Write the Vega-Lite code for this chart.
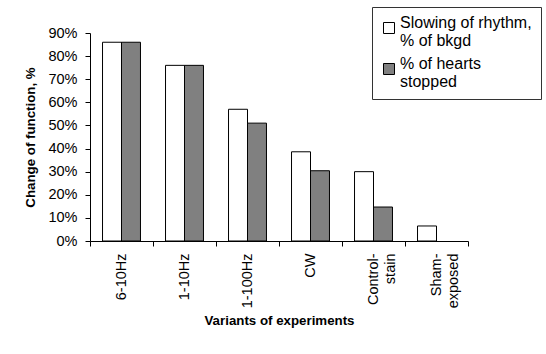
{
  "$schema": "https://vega.github.io/schema/vega-lite/v6.json",
  "width": 378,
  "height": 208,
  "autosize": {"type": "none"},
  "padding": {"left": 90, "top": 33, "right": 78, "bottom": 113},
  "background": "white",
  "data": {
    "values": [
      {"variant": "6-10Hz", "series": "Slowing of rhythm, % of bkgd", "value": 0.86},
      {"variant": "6-10Hz", "series": "% of hearts stopped", "value": 0.86},
      {"variant": "1-10Hz", "series": "Slowing of rhythm, % of bkgd", "value": 0.76},
      {"variant": "1-10Hz", "series": "% of hearts stopped", "value": 0.76},
      {"variant": "1-100Hz", "series": "Slowing of rhythm, % of bkgd", "value": 0.57},
      {"variant": "1-100Hz", "series": "% of hearts stopped", "value": 0.51},
      {"variant": "CW", "series": "Slowing of rhythm, % of bkgd", "value": 0.386},
      {"variant": "CW", "series": "% of hearts stopped", "value": 0.304},
      {"variant": "Control-stain", "series": "Slowing of rhythm, % of bkgd", "value": 0.30},
      {"variant": "Control-stain", "series": "% of hearts stopped", "value": 0.147},
      {"variant": "Sham-exposed", "series": "Slowing of rhythm, % of bkgd", "value": 0.065}
    ]
  },
  "mark": {"type": "bar", "stroke": "black", "strokeWidth": 1},
  "encoding": {
    "x": {
      "field": "variant",
      "type": "nominal",
      "sort": ["6-10Hz", "1-10Hz", "1-100Hz", "CW", "Control-stain", "Sham-exposed"],
      "scale": {"paddingInner": 0, "paddingOuter": 0},
      "axis": {
        "title": "Variants of experiments",
        "labelAngle": -90,
        "tickBand": "extent",
        "tickSize": 5,
        "labelPadding": 7,
        "labelLineHeight": 17,
        "titlePadding": 6,
        "labelExpr": "datum.label == 'Control-stain' ? ['Control-', 'stain'] : datum.label == 'Sham-exposed' ? ['Sham-', 'exposed'] : datum.label"
      }
    },
    "xOffset": {
      "field": "series",
      "type": "nominal",
      "sort": ["Slowing of rhythm, % of bkgd", "% of hearts stopped"],
      "scale": {"paddingInner": 0, "paddingOuter": 0.66}
    },
    "y": {
      "field": "value",
      "type": "quantitative",
      "scale": {"domain": [0, 0.9], "nice": false},
      "axis": {
        "title": "Change of function, %",
        "format": ".0%",
        "values": [0, 0.1, 0.2, 0.3, 0.4, 0.5, 0.6, 0.7, 0.8, 0.9],
        "grid": false,
        "tickSize": 5,
        "labelPadding": 8,
        "titlePadding": 10
      }
    },
    "fill": {
      "field": "series",
      "type": "nominal",
      "sort": ["Slowing of rhythm, % of bkgd", "% of hearts stopped"],
      "scale": {"range": ["#ffffff", "#808080"]},
      "legend": {
        "title": " ",
        "titleFontSize": 2,
        "titlePadding": 2,
        "orient": "none",
        "legendX": 282,
        "legendY": -26,
        "symbolType": "square",
        "symbolSize": 121,
        "symbolStrokeColor": "black",
        "symbolStrokeWidth": 1,
        "symbolOpacity": 1,
        "labelFontSize": 16,
        "labelLineHeight": 18,
        "labelLimit": 300,
        "labelOffset": 3,
        "labelBaseline": "alphabetic",
        "labelColor": "black",
        "labelFont": "Liberation Sans",
        "rowPadding": 7,
        "padding": 9,
        "strokeColor": "#333333",
        "fillColor": "white",
        "labelExpr": "datum.label == 'Slowing of rhythm, % of bkgd' ? ['Slowing of rhythm,', '% of bkgd'] : ['% of hearts', 'stopped']"
      }
    }
  },
  "config": {
    "font": "Liberation Sans",
    "view": {"stroke": null},
    "axis": {
      "domainColor": "black",
      "tickColor": "black",
      "labelColor": "black",
      "titleColor": "black",
      "labelFont": "Liberation Sans",
      "titleFont": "Liberation Sans",
      "labelFontSize": 14.5,
      "titleFontSize": 13.3,
      "titleFontWeight": "bold"
    }
  }
}
